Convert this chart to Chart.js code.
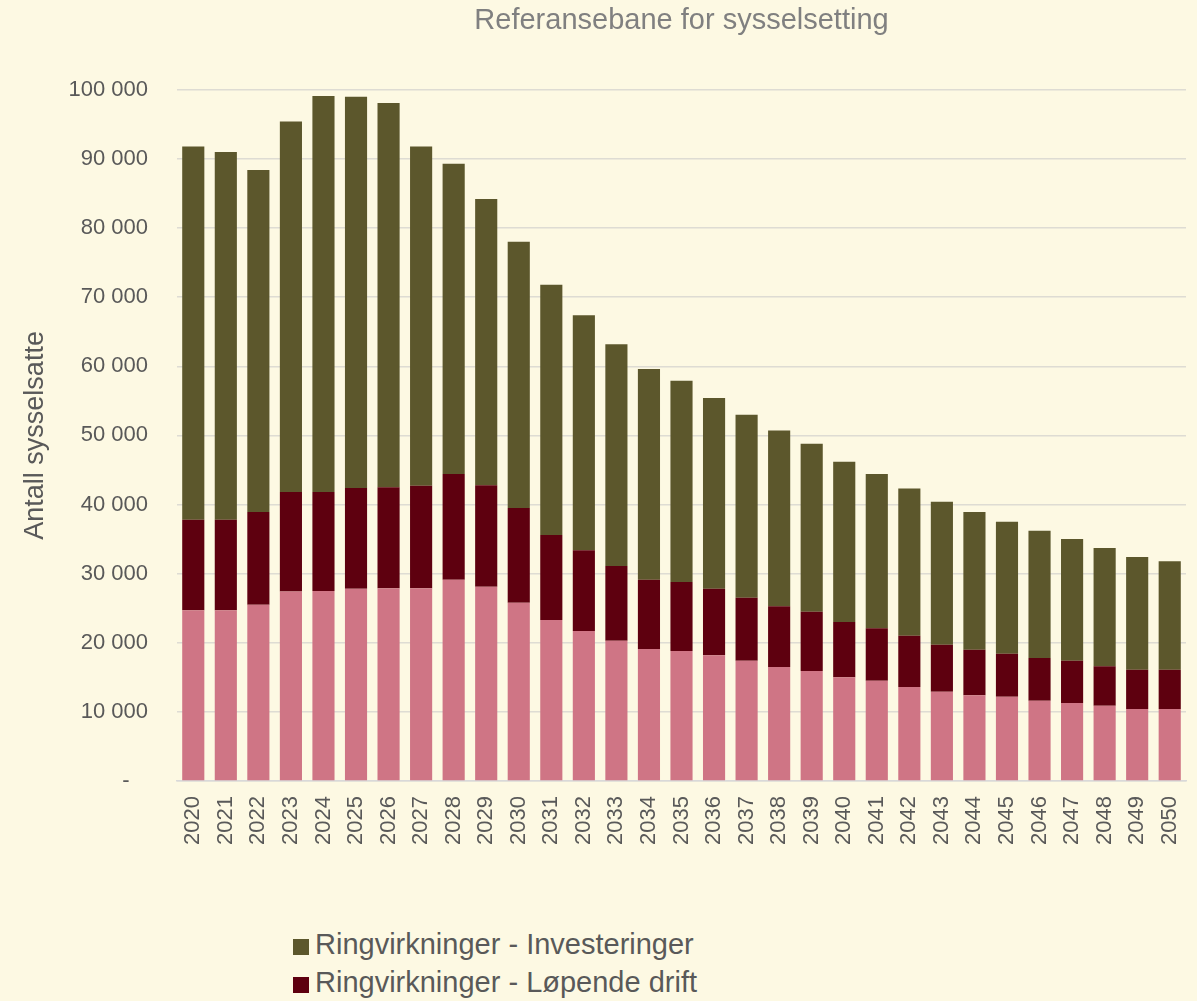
<!DOCTYPE html>
<html lang="no">
<head>
<meta charset="utf-8">
<title>Referansebane for sysselsetting</title>
<script src="https://cdn.jsdelivr.net/npm/chart.js@4.4.1/dist/chart.umd.min.js"></script>
<style>
  html, body { margin: 0; padding: 0; background: #fdf9e3; }
  #wrap { position: relative; width: 1197px; height: 1001px; overflow: hidden; }
  #box { position: absolute; left: 0; top: 0; width: 1197px; height: 905px; }
  #legend {
    position: absolute; left: 293px; top: 925px;
    font-family: "Liberation Sans", Arial, sans-serif; font-size: 29px; color: #595959;
  }
  .item { height: 38px; line-height: 38px; white-space: nowrap; }
  .swatch { display: inline-block; width: 16px; height: 16px; margin-right: 6px; vertical-align: -1px; }
</style>
</head>
<body>
<div id="wrap">
  <div id="box"><canvas id="chart"></canvas></div>
  <div id="legend"></div>
</div>
<script>
// Data lest av bildet
const years = ['2020','2021','2022','2023','2024','2025','2026','2027','2028','2029','2030',
  '2031','2032','2033','2034','2035','2036','2037','2038','2039','2040',
  '2041','2042','2043','2044','2045','2046','2047','2048','2049','2050'];

// nederste serie (rosa), navnet er ikke synlig i figuren
const direkte = [24700, 24700, 25500, 27400, 27500, 27800, 27900, 27900, 29100, 28100, 25800,
  23300, 21700, 20300, 19100, 18800, 18200, 17400, 16500, 15900, 15000,
  14500, 13600, 12900, 12400, 12200, 11600, 11300, 10900, 10400, 10400];

const lopendeDrift = [13100, 13100, 13400, 14400, 14300, 14600, 14600, 14800, 15300, 14700, 13700,
  12300, 11700, 10800, 10000, 10000, 9600, 9100, 8800, 8600, 8000,
  7600, 7400, 6800, 6600, 6200, 6200, 6100, 5700, 5700, 5700];

const investeringer = [54000, 53200, 49500, 53600, 57300, 56600, 55600, 49100, 44900, 41400, 38500,
  36200, 34000, 32100, 30500, 29100, 27600, 26500, 25400, 24300, 23200,
  22300, 21300, 20700, 19900, 19100, 18400, 17600, 17100, 16300, 15700];

const yTicks = [0, 10000, 20000, 30000, 40000, 50000, 60000, 70000, 80000, 90000, 100000];

const textColor = '#595959';
const font = '"Liberation Sans", Arial, sans-serif';

// Tall med mellomrom som tusenskille
function formatNumber(v) {
  if (v === 0) return '-   ';
  return String(v).replace(/\B(?=(\d{3})+(?!\d))/g, ' ');
}

document.addEventListener('DOMContentLoaded', () => {
  const datasets = [
    { label: 'Direkte', data: direkte, backgroundColor: '#cf7585', inLegend: false },
    { label: 'Ringvirkninger - Løpende drift', data: lopendeDrift, backgroundColor: '#5e000f', inLegend: true },
    { label: 'Ringvirkninger - Investeringer', data: investeringer, backgroundColor: '#5c572c', inLegend: true }
  ];

  const ctx = document.getElementById('chart').getContext('2d');
  const chart = new Chart(ctx, {
    type: 'bar',
    data: {
      labels: years,
      datasets: datasets.map(d => ({
        label: d.label,
        data: d.data,
        backgroundColor: d.backgroundColor,
        borderWidth: 0,
        barPercentage: 0.68,
        categoryPercentage: 1
      }))
    },
    options: {
      responsive: true,
      maintainAspectRatio: false,
      animation: false,
      layout: { padding: { left: 0, right: 11, top: 0, bottom: 0 } },
      plugins: {
        legend: { display: false },
        tooltip: { enabled: false },
        title: {
          display: true,
          text: 'Referansebane for sysselsetting',
          fullSize: false,
          color: '#808080',
          font: { family: font, size: 29, weight: 'normal' },
          padding: { top: 4, bottom: 51 }
        }
      },
      scales: {
        x: {
          stacked: true,
          grid: { display: false, drawTicks: false },
          border: { color: '#d9d9d9', width: 1.5 },
          ticks: {
            color: textColor,
            font: { family: font, size: 22 },
            minRotation: 90,
            maxRotation: 90,
            autoSkip: false,
            padding: 15
          },
          afterFit: scale => {
            scale.height = 124;
            scale.paddingLeft = 0;
            scale.paddingRight = 0;
          }
        },
        y: {
          stacked: true,
          min: 0,
          max: 100000,
          afterBuildTicks: scale => { scale.ticks = yTicks.map(v => ({ value: v })); },
          grid: { color: '#dedcd3', lineWidth: 1.5, drawTicks: false },
          border: { display: false },
          ticks: {
            color: textColor,
            font: { family: font, size: 22 },
            padding: 29,
            callback: v => formatNumber(v)
          },
          title: {
            display: true,
            text: 'Antall sysselsatte',
            color: textColor,
            font: { family: font, size: 27 },
            padding: { top: 19, bottom: 0 }
          },
          afterFit: scale => { scale.width = 177; }
        }
      }
    }
  });

  // Forklaring som egen liste, øverste serie først
  const legend = document.getElementById('legend');
  datasets.slice().reverse().filter(d => d.inLegend).forEach(d => {
    const row = document.createElement('div');
    row.className = 'item';
    const sw = document.createElement('span');
    sw.className = 'swatch';
    sw.style.background = d.backgroundColor;
    row.appendChild(sw);
    row.appendChild(document.createTextNode(d.label));
    legend.appendChild(row);
  });
});
</script>
</body>
</html>
